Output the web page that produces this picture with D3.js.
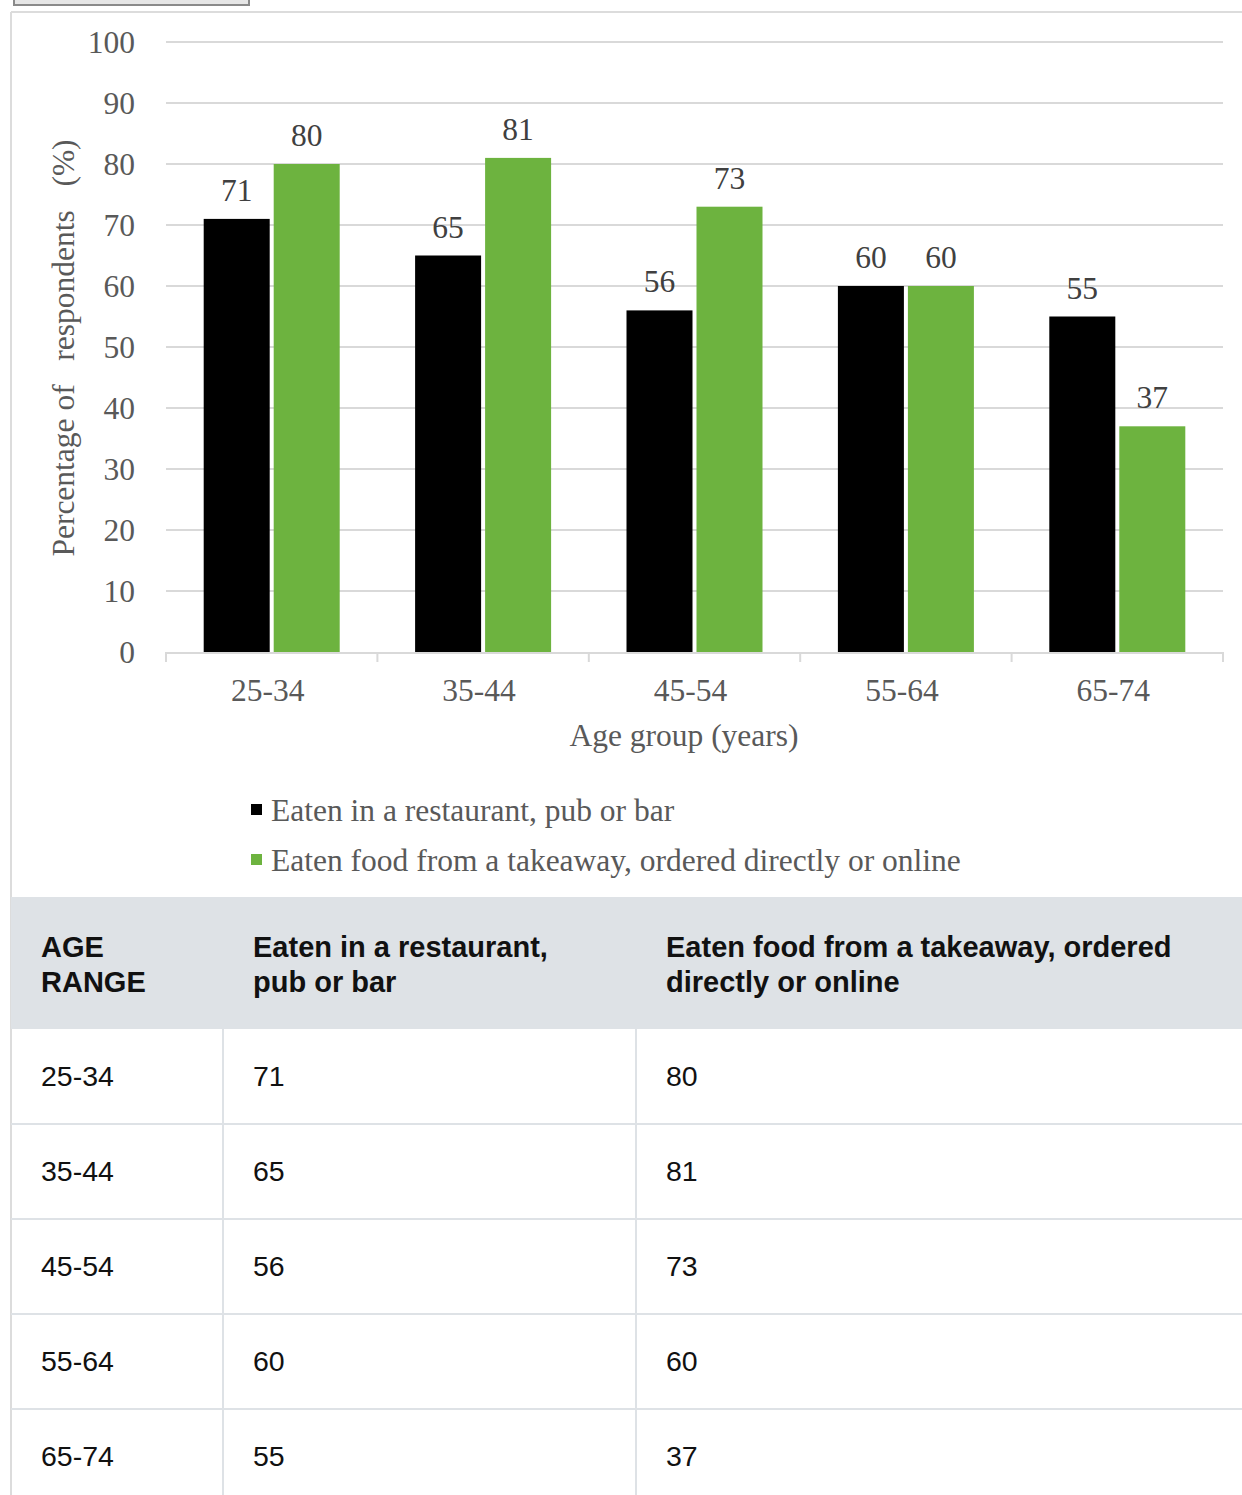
<!DOCTYPE html>
<html><head><meta charset="utf-8">
<script src="https://cdn.jsdelivr.net/npm/d3@7"></script>
<style>
html,body{margin:0;padding:0;background:#fff;}
svg{display:block;}
</style></head>
<body>
<svg id="c" width="1242" height="1495"></svg>
<script>
const categories = ["25-34","35-44","45-54","55-64","65-74"];
const restaurant = [71,65,56,60,55];
const takeaway = [80,81,73,60,37];
const seriesNames = ["Eaten in a restaurant, pub or bar","Eaten food from a takeaway, ordered directly or online"];
const yTicks = [0,10,20,30,40,50,60,70,80,90,100];
const tableHeader = [["AGE","RANGE"],["Eaten in a restaurant,","pub or bar"],["Eaten food from a takeaway, ordered","directly or online"]];
const colors = ["#000000","#6db33f"];

const svg = d3.select("#c");
const serif = "'Liberation Serif','Times New Roman',serif";
const sans = "'Liberation Sans',Arial,sans-serif";
const fs = 31.5;

// top button & frame
svg.append("rect").attr("x",14).attr("y",-4).attr("width",235).attr("height",9).attr("fill","#e6e6e6").attr("stroke","#8a8a8a").attr("stroke-width",2);
svg.append("line").attr("x1",11).attr("x2",1242).attr("y1",12).attr("y2",12).attr("stroke","#dcdcdc").attr("stroke-width",2);
svg.append("line").attr("x1",11).attr("x2",11).attr("y1",12).attr("y2",1495).attr("stroke","#dcdcdc").attr("stroke-width",2);

const x0 = d3.scaleBand().domain(categories).range([166,1223]).paddingInner(0).paddingOuter(0);
const y = d3.scaleLinear().domain([0,100]).range([652,42]);

// gridlines
svg.append("g").selectAll("line").data(yTicks.filter(d=>d>0)).join("line")
  .attr("x1",166).attr("x2",1223).attr("y1",d=>y(d)).attr("y2",d=>y(d))
  .attr("stroke","#d9d9d9").attr("stroke-width",2);

// y tick labels
svg.append("g").selectAll("text").data(yTicks).join("text")
  .attr("x",135).attr("y",d=>y(d)).attr("dy","0.35em").attr("text-anchor","end")
  .attr("font-family",serif).attr("font-size",fs).attr("fill","#595959").text(d=>d);

// bars
const bw = 66, gap = 4;
const groups = categories.map((c,i)=>({c, vals:[restaurant[i],takeaway[i]]}));
const g = svg.append("g");
groups.forEach(gr=>{
  const cx = x0(gr.c) + x0.bandwidth()/2;
  gr.vals.forEach((v,k)=>{
    const bx = k===0 ? cx - gap/2 - bw : cx + gap/2;
    g.append("rect").attr("x",bx).attr("y",y(v)).attr("width",bw).attr("height",y(0)-y(v)).attr("fill",colors[k]);
    g.append("text").attr("x",bx+bw/2).attr("y",y(v)-18).attr("text-anchor","middle")
      .attr("font-family",serif).attr("font-size",fs).attr("fill","#404040").text(v);
  });
});

// x axis
const axisG = svg.append("g");
axisG.append("line").attr("x1",166).attr("x2",1223).attr("y1",y(0)+1).attr("y2",y(0)+1).attr("stroke","#d9d9d9").attr("stroke-width",2);
const bounds = categories.map(c=>x0(c)).concat([x0.range()[1]]);
axisG.selectAll("line.t").data(bounds).join("line").attr("class","t")
  .attr("x1",d=>d).attr("x2",d=>d).attr("y1",y(0)).attr("y2",y(0)+10).attr("stroke","#d9d9d9").attr("stroke-width",2);
axisG.selectAll("text").data(categories).join("text")
  .attr("x",d=>x0(d)+x0.bandwidth()/2 - 4).attr("y",701).attr("text-anchor","middle")
  .attr("font-family",serif).attr("font-size",fs).attr("fill","#595959").text(d=>d);

svg.append("text").attr("x",684).attr("y",746).attr("text-anchor","middle")
  .attr("font-family",serif).attr("font-size",fs).attr("fill","#595959").text("Age group (years)");

svg.append("text").attr("transform","translate(74,348) rotate(-90)").attr("text-anchor","middle")
  .attr("font-family",serif).attr("font-size",fs).attr("fill","#595959")
  .style("white-space","pre").text("Percentage of   respondents   (%)");

// legend
seriesNames.forEach((s,i)=>{
  const ly = 810 + i*50;
  svg.append("rect").attr("x",251).attr("y",ly-6).attr("width",11).attr("height",11).attr("fill",colors[i]);
  svg.append("text").attr("x",271).attr("y",ly).attr("dy","0.35em").attr("font-family",serif).attr("font-size",fs).attr("fill","#595959").text(s);
});

// table
const tTop = 897, hH = 132, rH = 95;
const colX = [11,223,636,1242];
svg.append("rect").attr("x",11).attr("y",tTop).attr("width",1231).attr("height",hH).attr("fill","#dee2e6");
tableHeader.forEach((lines,j)=>{
  lines.forEach((l,k)=>{
    svg.append("text").attr("x",colX[j]+30).attr("y",tTop+60+k*35).attr("font-family",sans).attr("font-weight","bold")
      .attr("font-size",29).attr("fill","#111").text(l);
  });
});
const rows = categories.map((c,i)=>[c,restaurant[i],takeaway[i]]);
const bodyTop = tTop+hH;
rows.forEach((r,i)=>{
  const ry = bodyTop + i*rH;
  if(i>0) svg.append("line").attr("x1",11).attr("x2",1242).attr("y1",ry).attr("y2",ry).attr("stroke","#dee2e6").attr("stroke-width",2);
  r.forEach((v,j)=>{
    svg.append("text").attr("x",colX[j]+30).attr("y",ry+rH/2).attr("dy","0.35em").attr("font-family",sans)
      .attr("font-size",28.5).attr("fill","#111").text(v);
  });
});
[223,636].forEach(xx=>{
  svg.append("line").attr("x1",xx).attr("x2",xx).attr("y1",bodyTop).attr("y2",1495).attr("stroke","#dee2e6").attr("stroke-width",2);
});
</script>
</body></html>
